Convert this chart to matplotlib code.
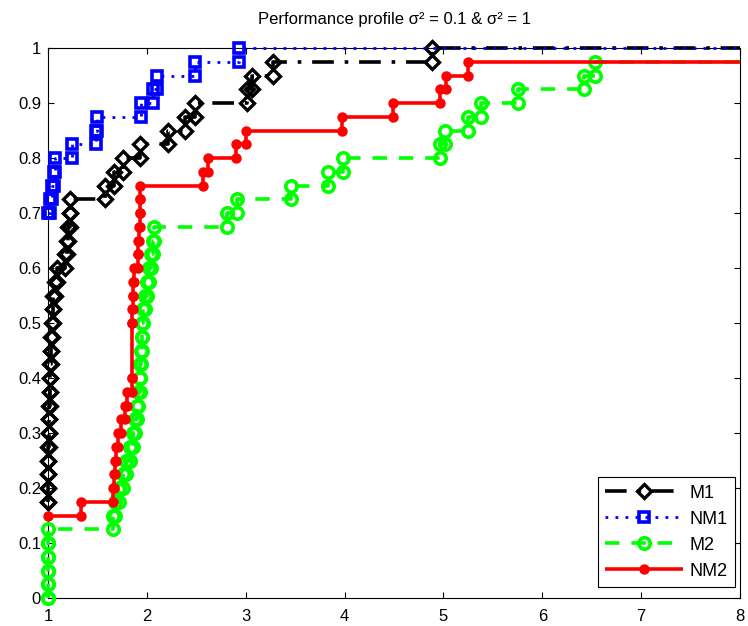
import numpy as np
import matplotlib
matplotlib.use("Agg")
import matplotlib.pyplot as plt

plt.rcParams['font.family'] = ['Liberation Sans', 'DejaVu Sans']

# ---- data: step positions (tau) and profile level reached at that step (rho) ----
m1_tau = [1.0, 1.0, 1.0, 1.005, 1.005, 1.01, 1.01, 1.015, 1.02, 1.02, 1.025, 1.03,
          1.035, 1.04, 1.05, 1.055, 1.07, 1.09, 1.17, 1.19, 1.205, 1.22, 1.22,
          1.58, 1.67, 1.76, 1.93, 2.21, 2.39, 2.49, 3.01, 3.06, 3.28, 4.88]
m1_rho = [0.175, 0.2, 0.225, 0.25, 0.275, 0.3, 0.325, 0.35, 0.375, 0.4, 0.425, 0.45,
          0.475, 0.5, 0.525, 0.55, 0.575, 0.6, 0.625, 0.65, 0.675, 0.7, 0.725,
          0.75, 0.775, 0.8, 0.825, 0.85, 0.875, 0.9, 0.925, 0.95, 0.975, 1.0]

nm1_tau = [1.0, 1.025, 1.04, 1.06, 1.07, 1.24, 1.49, 1.5, 1.94, 2.065, 2.1, 2.49, 2.93]
nm1_rho = [0.7, 0.725, 0.75, 0.775, 0.8, 0.825, 0.85, 0.875, 0.9, 0.925, 0.95, 0.975, 1.0]

m2_tau = [1.0, 1.0, 1.0, 1.0, 1.0, 1.0,
          1.66, 1.68, 1.72, 1.76, 1.79, 1.83, 1.86, 1.88, 1.9, 1.91, 1.93, 1.93,
          1.94, 1.95, 1.95, 1.96, 1.98, 2.0, 2.02, 2.04, 2.06, 2.07,
          2.81, 2.91, 3.46, 3.83, 3.98, 4.97, 5.02, 5.25, 5.38, 5.75, 6.42, 6.53]
m2_rho = [0.0, 0.025, 0.05, 0.075, 0.1, 0.125,
          0.15, 0.175, 0.2, 0.225, 0.25, 0.275, 0.3, 0.325, 0.35, 0.375, 0.4, 0.425,
          0.45, 0.475, 0.5, 0.525, 0.55, 0.575, 0.6, 0.625, 0.65, 0.675,
          0.7, 0.725, 0.75, 0.775, 0.8, 0.825, 0.85, 0.875, 0.9, 0.925, 0.95, 0.975]

nm2_tau = [1.0, 1.33, 1.66, 1.665, 1.68, 1.69, 1.71, 1.74, 1.78, 1.80, 1.845, 1.85,
           1.85, 1.855, 1.86, 1.865, 1.91, 1.915, 1.92, 1.93, 1.93, 1.935,
           2.57, 2.62, 2.90, 3.00, 3.97, 4.49, 4.97, 5.03, 5.25]
nm2_rho = [0.15, 0.175, 0.2, 0.225, 0.25, 0.275, 0.3, 0.325, 0.35, 0.375, 0.4, 0.5,
           0.525, 0.55, 0.575, 0.6, 0.625, 0.65, 0.675, 0.7, 0.725, 0.75,
           0.775, 0.8, 0.825, 0.85, 0.875, 0.9, 0.925, 0.95, 0.975]

labels = ['M1', 'NM1', 'M2', 'NM2']
x_max = 8.0
x_ticks = [1, 2, 3, 4, 5, 6, 7, 8]
y_ticks = [0, 0.1, 0.2, 0.3, 0.4, 0.5, 0.6, 0.7, 0.8, 0.9, 1.0]
y_ticklabels = ['0', '0.1', '0.2', '0.3', '0.4', '0.5', '0.6', '0.7', '0.8', '0.9', '1']
title = 'Performance profile σ² = 0.1 & σ² = 1'


def stairs(tau, rho, xend):
    tau = np.asarray(tau, float)
    rho = np.asarray(rho, float)
    xs = np.empty(2 * len(tau) - 1)
    ys = np.empty_like(xs)
    xs[0::2] = tau
    ys[0::2] = rho
    xs[1::2] = tau[1:]
    ys[1::2] = rho[:-1]
    xs = np.append(xs, xend)
    ys = np.append(ys, rho[-1])
    return xs, ys


fig = plt.figure(figsize=(7.48, 6.26), dpi=100)
ax = fig.add_axes([48 / 748, 28 / 626, 692 / 748, 550 / 626])

styles = [
    dict(color='k', ls=(0, (6, 3, 1, 3)), lw=2.6, marker='D', ms=7,
         mfc='none', mew=2.4),
    dict(color='b', ls=(0, (1, 2.6)), lw=2.0, marker='s', ms=6.5,
         mfc='none', mew=2.6),
    dict(color='#00ff00', ls=(0, (4, 3.3)), lw=2.6, marker='o', ms=8.2,
         mfc='none', mew=2.6),
    dict(color='r', ls='-', lw=2.6, marker='o', ms=6.5,
         mfc='r', mec='r', mew=1),
]

series = [(m1_tau, m1_rho), (nm1_tau, nm1_rho), (m2_tau, m2_rho), (nm2_tau, nm2_rho)]
for (tau, rho), st, lab in zip(series, styles, labels):
    xs, ys = stairs(tau, rho, x_max)
    ax.plot(xs, ys, label=lab, markevery=list(range(len(xs) - 1)),
            clip_on=False, solid_capstyle='butt', dash_capstyle='butt', **st)

ax.set_xlim(1, 8)
ax.set_ylim(0, 1)
ax.set_xticks(x_ticks)
ax.set_yticks(y_ticks)
ax.set_yticklabels(y_ticklabels)
ax.tick_params(direction='in', top=True, right=True, length=4.5, width=0.8,
               labelsize=12, pad=5)
ax.tick_params(axis='x', pad=8)
for sp in ax.spines.values():
    sp.set_linewidth(0.8)
    sp.set_zorder(0.5)

ax.set_title(title, fontsize=12, pad=17)

leg = ax.legend(loc='lower right', bbox_to_anchor=(0.993, 0.02), fontsize=13,
                handlelength=4.3, fancybox=False, edgecolor='k', framealpha=1,
                borderpad=0.4, labelspacing=0.5, handletextpad=0.4,
                borderaxespad=0.0)
leg.get_frame().set_linewidth(0.8)

fig.savefig('out.png', dpi=100)
